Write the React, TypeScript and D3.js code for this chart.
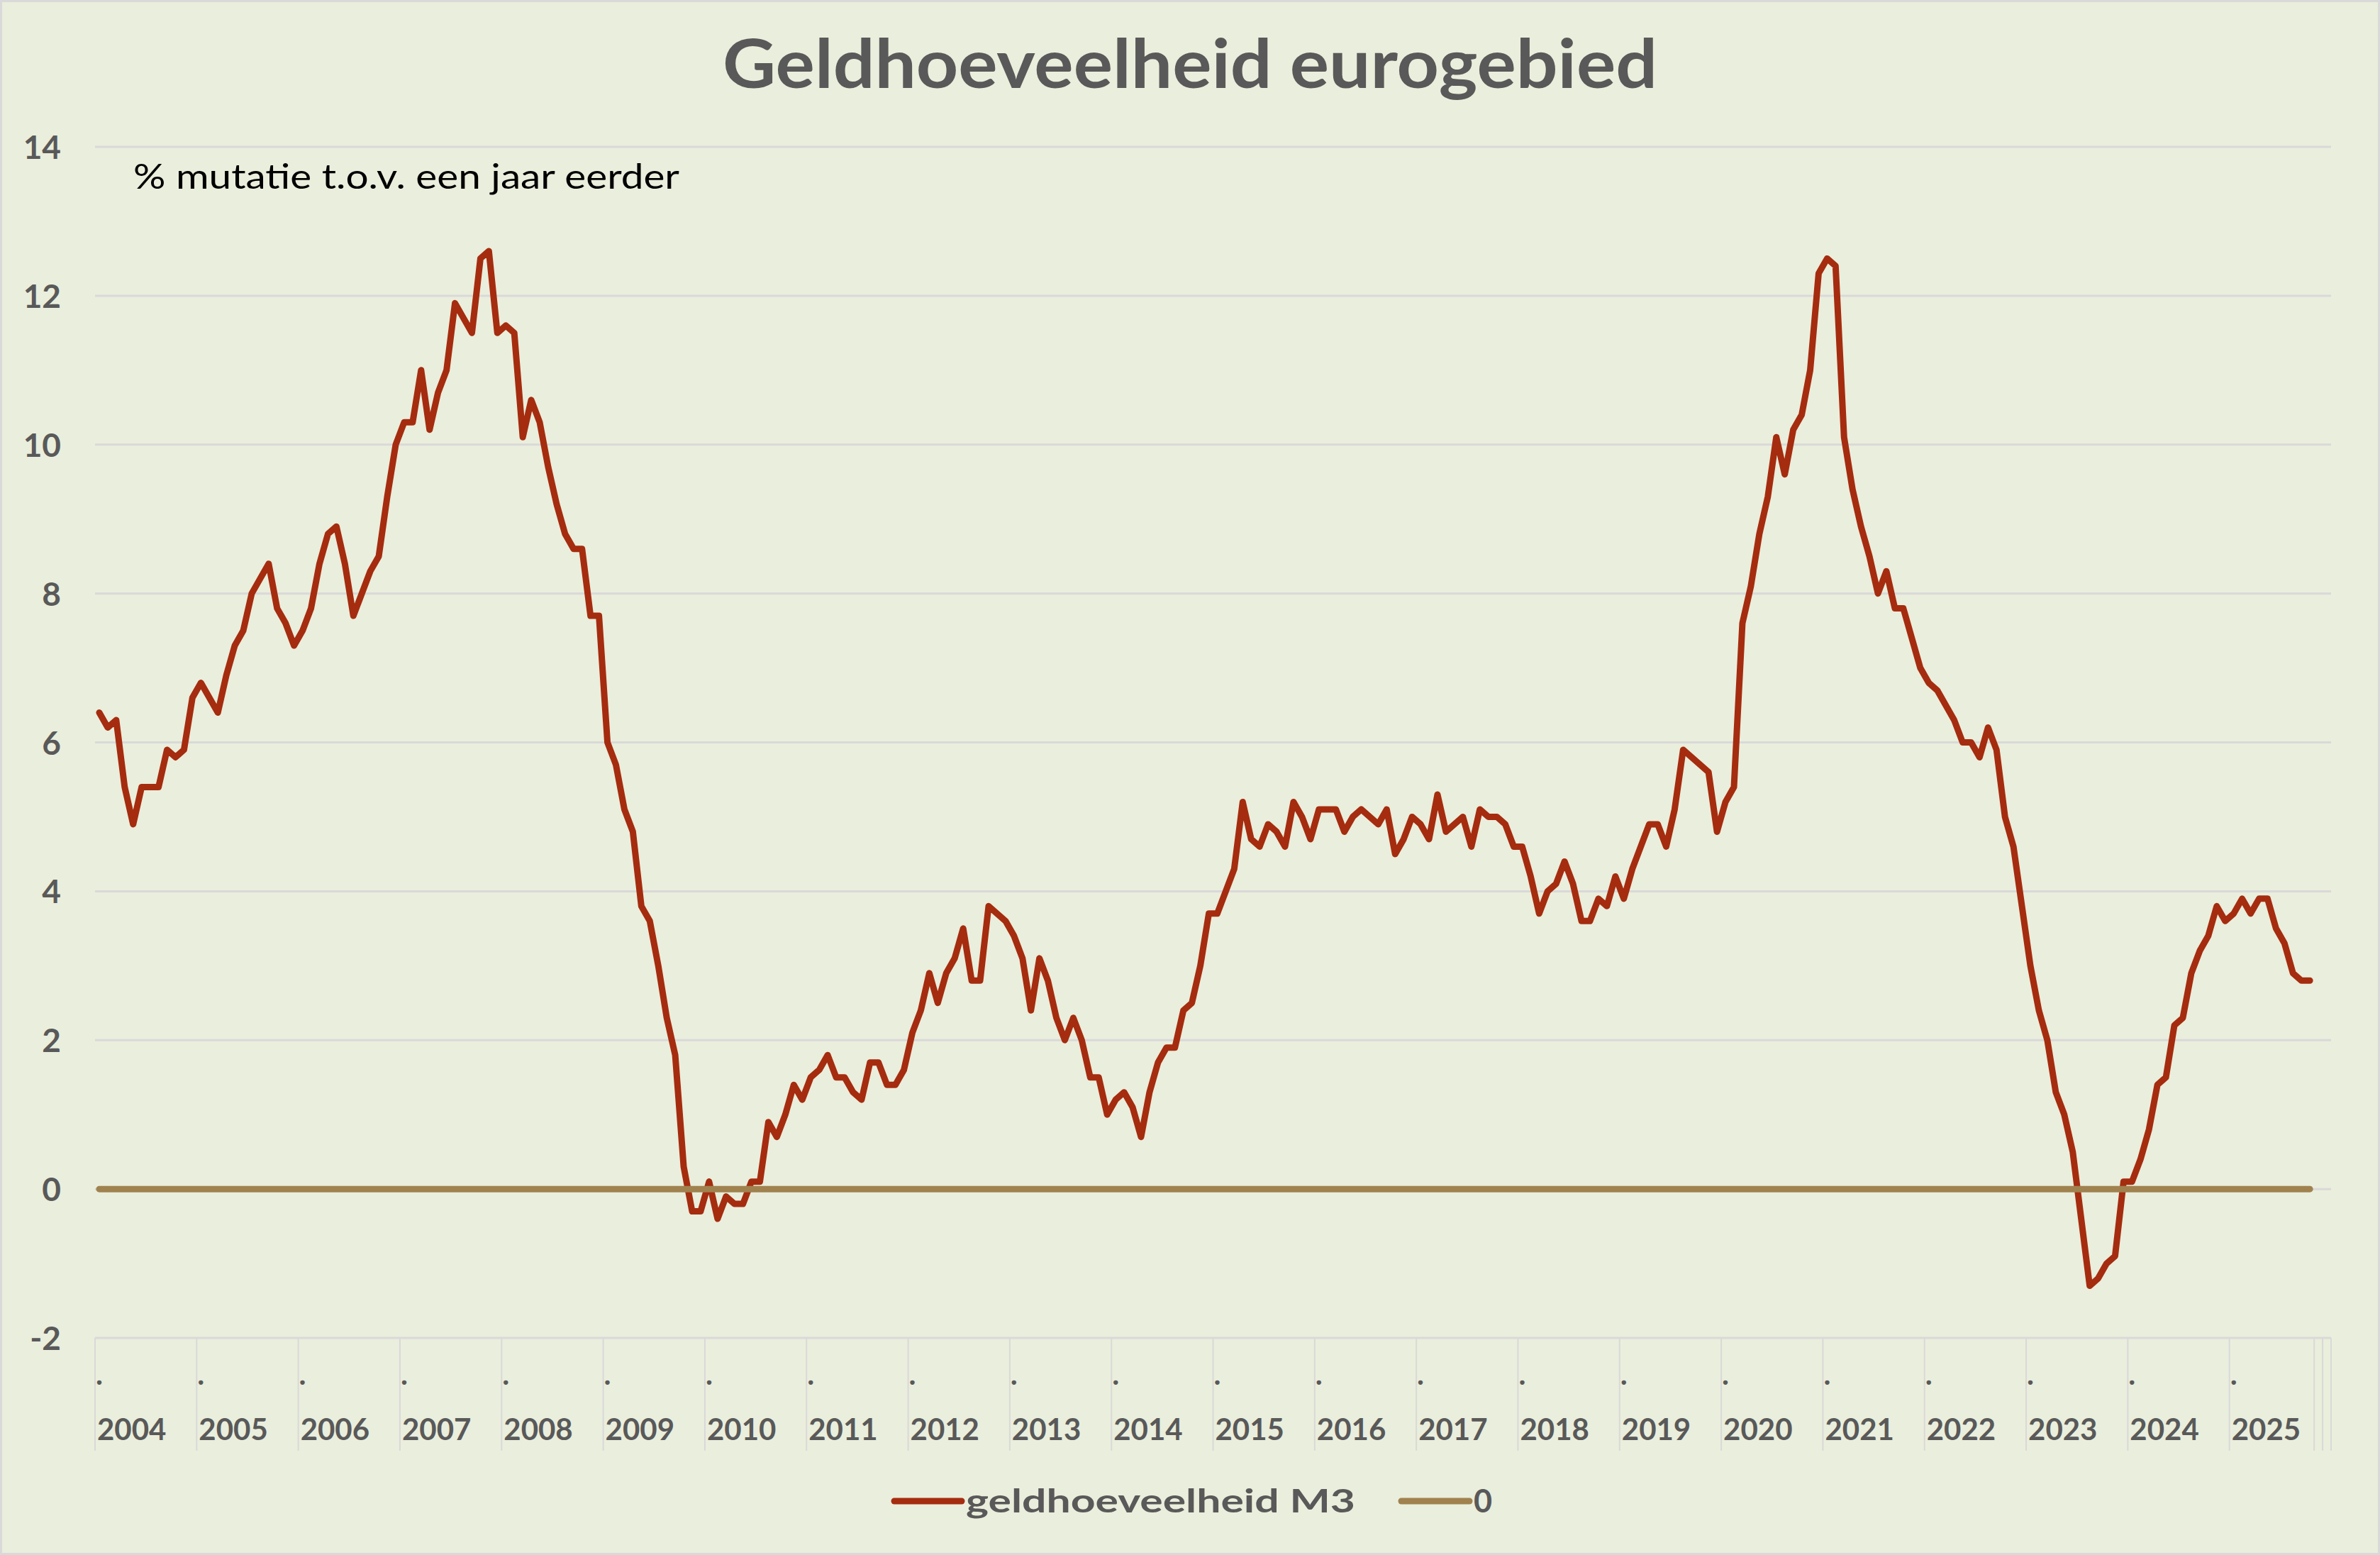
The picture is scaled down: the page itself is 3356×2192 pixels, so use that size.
import * as d3 from "d3";

const W = 3356;
const H = 2192;

const TITLE = "Geldhoeveelheid eurogebied";
const SUBTITLE = "% mutatie t.o.v. een jaar eerder";
const SERIES_NAMES = ["geldhoeveelheid M3", "0"];

const YEARS = [
  "2004", "2005", "2006", "2007", "2008", "2009", "2010", "2011",
  "2012", "2013", "2014", "2015", "2016", "2017", "2018", "2019",
  "2020", "2021", "2022", "2023", "2024", "2025",
];
const MONTHS_LAST_YEAR = 10;
const EMPTY_SLOTS = 2;

const Y_TICKS = [-2, 0, 2, 4, 6, 8, 10, 12, 14];

// M3 annual growth, jan 2004 .. okt 2025
const M3 = [
  6.4, 6.2, 6.3, 5.4, 4.9, 5.4, 5.4, 5.4, 5.9, 5.8, 5.9, 6.6, // 2004
  6.8, 6.6, 6.4, 6.9, 7.3, 7.5, 8.0, 8.2, 8.4, 7.8, 7.6, 7.3, // 2005
  7.5, 7.8, 8.4, 8.8, 8.9, 8.4, 7.7, 8.0, 8.3, 8.5, 9.3, 10.0, // 2006
  10.3, 10.3, 11.0, 10.2, 10.7, 11.0, 11.9, 11.7, 11.5, 12.5, 12.6, 11.5, // 2007
  11.6, 11.5, 10.1, 10.6, 10.3, 9.7, 9.2, 8.8, 8.6, 8.6, 7.7, 7.7, // 2008
  6.0, 5.7, 5.1, 4.8, 3.8, 3.6, 3.0, 2.3, 1.8, 0.3, -0.3, -0.3, // 2009
  0.1, -0.4, -0.1, -0.2, -0.2, 0.1, 0.1, 0.9, 0.7, 1.0, 1.4, 1.2, // 2010
  1.5, 1.6, 1.8, 1.5, 1.5, 1.3, 1.2, 1.7, 1.7, 1.4, 1.4, 1.6, // 2011
  2.1, 2.4, 2.9, 2.5, 2.9, 3.1, 3.5, 2.8, 2.8, 3.8, 3.7, 3.6, // 2012
  3.4, 3.1, 2.4, 3.1, 2.8, 2.3, 2.0, 2.3, 2.0, 1.5, 1.5, 1.0, // 2013
  1.2, 1.3, 1.1, 0.7, 1.3, 1.7, 1.9, 1.9, 2.4, 2.5, 3.0, 3.7, // 2014
  3.7, 4.0, 4.3, 5.2, 4.7, 4.6, 4.9, 4.8, 4.6, 5.2, 5.0, 4.7, // 2015
  5.1, 5.1, 5.1, 4.8, 5.0, 5.1, 5.0, 4.9, 5.1, 4.5, 4.7, 5.0, // 2016
  4.9, 4.7, 5.3, 4.8, 4.9, 5.0, 4.6, 5.1, 5.0, 5.0, 4.9, 4.6, // 2017
  4.6, 4.2, 3.7, 4.0, 4.1, 4.4, 4.1, 3.6, 3.6, 3.9, 3.8, 4.2, // 2018
  3.9, 4.3, 4.6, 4.9, 4.9, 4.6, 5.1, 5.9, 5.8, 5.7, 5.6, 4.8, // 2019
  5.2, 5.4, 7.6, 8.1, 8.8, 9.3, 10.1, 9.6, 10.2, 10.4, 11.0, 12.3, // 2020
  12.5, 12.4, 10.1, 9.4, 8.9, 8.5, 8.0, 8.3, 7.8, 7.8, 7.4, 7.0, // 2021
  6.8, 6.7, 6.5, 6.3, 6.0, 6.0, 5.8, 6.2, 5.9, 5.0, 4.6, 3.8, // 2022
  3.0, 2.4, 2.0, 1.3, 1.0, 0.5, -0.4, -1.3, -1.2, -1.0, -0.9, 0.1, // 2023
  0.1, 0.4, 0.8, 1.4, 1.5, 2.2, 2.3, 2.9, 3.2, 3.4, 3.8, 3.6, // 2024
  3.7, 3.9, 3.7, 3.9, 3.9, 3.5, 3.3, 2.9, 2.8, 2.8, // 2025
];
const ZERO_LEVEL = 0;

const BG = "#EAEEDC";
const GRID = "#D9D9D9";
const TEXT = "#595959";
const RED = "#A52C0F";
const TAN = "#A0824F";
const FONT = "Lato, 'Noto Sans', sans-serif";

const PLOT_LEFT = 134;
const PLOT_RIGHT = 3287;
const PLOT_TOP = 207;
const PLOT_BOTTOM = 1886;

export default function App() {
  const slotCount = M3.length + EMPTY_SLOTS;
  const x = d3.scaleLinear().domain([0, slotCount]).range([PLOT_LEFT, PLOT_RIGHT]);
  const y = d3.scaleLinear().domain([-2, 14]).range([PLOT_BOTTOM, PLOT_TOP]);
  const cx = (i: number) => x(i + 0.5);

  const line = d3
    .line<number>()
    .x((_, i) => cx(i))
    .y((d) => y(d));

  // slot boundaries: start of every year, end of data, empty slots
  const yearStarts = YEARS.map((_, k) => k * 12);
  const boundaries = [...yearStarts];
  for (let s = M3.length; s <= slotCount; s++) boundaries.push(s);

  const legendY = 2116;

  return (
    <svg
      width={W}
      height={H}
      viewBox={`0 0 ${W} ${H}`}
      style={{ position: "absolute", left: 0, top: 0, display: "block" }}
      fontFamily={FONT}
    >
      <rect x={1.5} y={1.5} width={W - 3} height={H - 3} fill={BG} stroke={GRID} strokeWidth={3} />

      <text
        x={W / 2}
        y={124}
        textAnchor="middle"
        fontSize={96}
        fontWeight="bold"
        fill={TEXT}
        textLength={1318}
        lengthAdjust="spacingAndGlyphs"
      >
        {TITLE}
      </text>

      {/* gridlines */}
      {Y_TICKS.map((t) => (
        <line key={t} x1={PLOT_LEFT} x2={PLOT_RIGHT} y1={y(t)} y2={y(t)} stroke={GRID} strokeWidth={3} />
      ))}
      {Y_TICKS.map((t) => (
        <text
          key={"l" + t}
          x={86}
          y={y(t) + 17}
          textAnchor="end"
          fontSize={46}
          fontWeight="bold"
          fill={TEXT}
        >
          {t}
        </text>
      ))}

      <text x={188} y={266} fontSize={48} fill="#000" textLength={770} lengthAdjust="spacingAndGlyphs">
        {SUBTITLE}
      </text>

      {/* category axis */}
      {boundaries.map((b, k) => (
        <line key={"t" + k} x1={x(b)} x2={x(b)} y1={PLOT_BOTTOM} y2={2045} stroke={GRID} strokeWidth={2} />
      ))}
      {YEARS.map((yr, k) => (
        <g key={yr}>
          <text x={cx(yearStarts[k])} y={1952} textAnchor="middle" fontSize={42} fontWeight="bold" fill={TEXT}>
            .
          </text>
          <text x={x(yearStarts[k]) + 3} y={2030} fontSize={42} fontWeight="bold" fill={TEXT}>
            {yr}
          </text>
        </g>
      ))}

      {/* series */}
      <path
        d={line(M3) ?? ""}
        fill="none"
        stroke={RED}
        strokeWidth={9}
        strokeLinejoin="round"
        strokeLinecap="round"
      />
      <line
        x1={cx(0)}
        x2={cx(M3.length - 1)}
        y1={y(ZERO_LEVEL)}
        y2={y(ZERO_LEVEL)}
        stroke={TAN}
        strokeWidth={9}
        strokeLinecap="round"
      />

      {/* legend */}
      <line x1={1261} x2={1356} y1={legendY} y2={legendY} stroke={RED} strokeWidth={9} strokeLinecap="round" />
      <text x={1362} y={2132} fontSize={45} fontWeight="bold" fill={TEXT} textLength={549} lengthAdjust="spacingAndGlyphs">
        {SERIES_NAMES[0]}
      </text>
      <line x1={1976} x2={2072} y1={legendY} y2={legendY} stroke={TAN} strokeWidth={9} strokeLinecap="round" />
      <text x={2078} y={2132} fontSize={45} fontWeight="bold" fill={TEXT}>
        {SERIES_NAMES[1]}
      </text>
    </svg>
  );
}
